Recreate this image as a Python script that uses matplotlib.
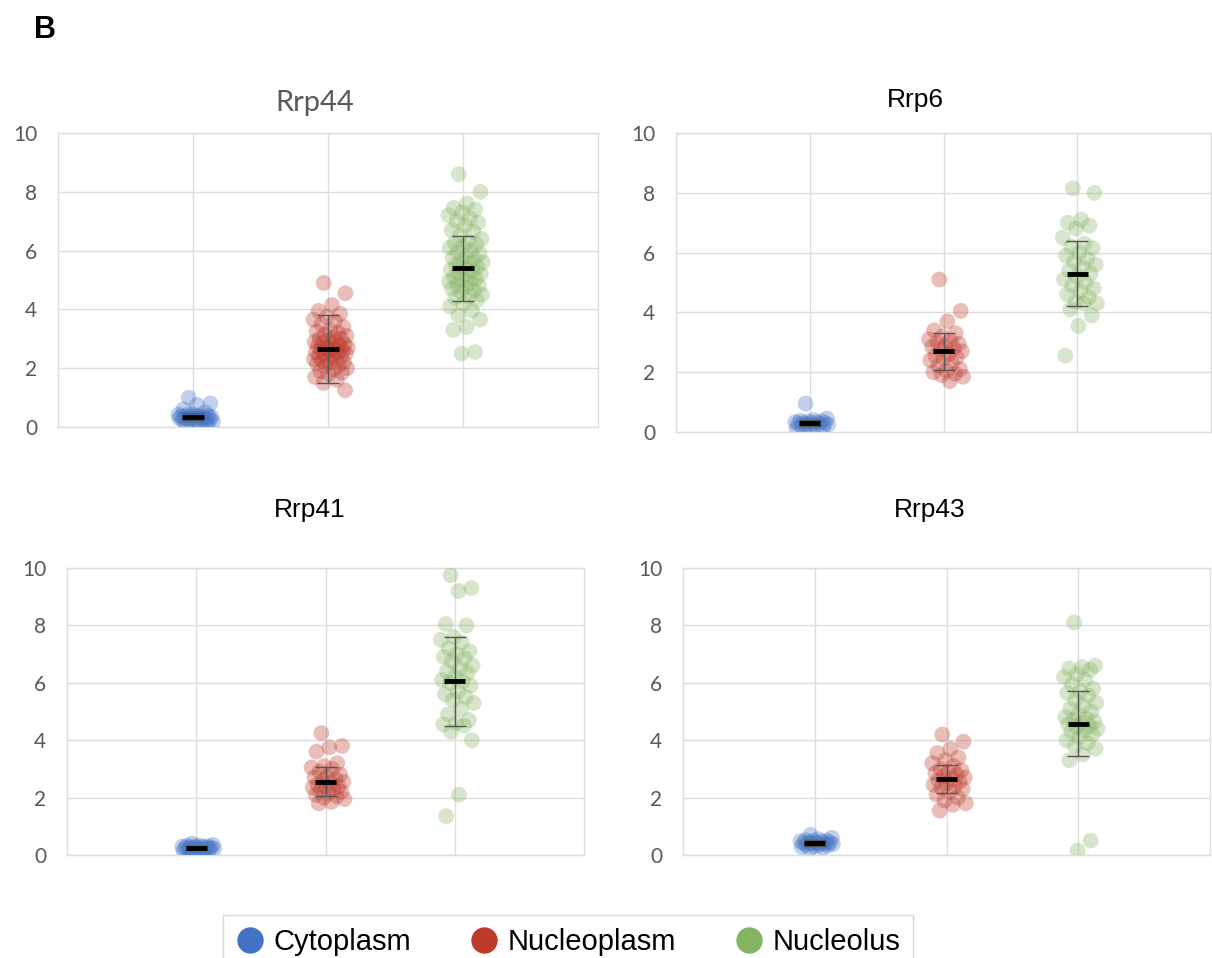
import numpy as np
import matplotlib
matplotlib.use("Agg")
import matplotlib.pyplot as plt
from matplotlib.lines import Line2D

# compartments and panels
compartments = ["Cytoplasm", "Nucleoplasm", "Nucleolus"]
colors = ["#4472C4", "#BE3A2C", "#84B362"]
proteins = ["Rrp44", "Rrp6", "Rrp41", "Rrp43"]

# values (per protein: cytoplasm, nucleoplasm, nucleolus)
rrp44_cyto = [1.0, 0.8, 0.75, 0.6, 0.5, 0.45, 0.42, 0.4, 0.4, 0.38, 0.38, 0.36, 0.35, 0.35,
              0.34, 0.33, 0.32, 0.3, 0.3, 0.3, 0.28, 0.28, 0.26, 0.25, 0.25, 0.22, 0.2, 0.18,
              0.15, 0.1, 0.05]
rrp44_nucp = [4.9, 4.55, 4.15, 3.95, 3.85, 3.75, 3.65, 3.6, 3.5, 3.4, 3.3, 3.25, 3.2, 3.15,
              3.1, 3.05, 3.0, 3.0, 2.95, 2.9, 2.9, 2.85, 2.8, 2.8, 2.75, 2.75, 2.7, 2.7, 2.65,
              2.65, 2.6, 2.6, 2.55, 2.55, 2.5, 2.5, 2.45, 2.4, 2.4, 2.35, 2.3, 2.3, 2.25, 2.2,
              2.2, 2.15, 2.1, 2.05, 2.0, 1.95, 1.9, 1.85, 1.8, 1.7, 1.6, 1.5, 1.25]
rrp44_nucl = [8.6, 8.0, 7.6, 7.45, 7.4, 7.3, 7.2, 7.1, 7.0, 6.95, 6.85, 6.7, 6.65, 6.5, 6.4,
              6.3, 6.25, 6.2, 6.15, 6.1, 6.0, 5.95, 5.9, 5.8, 5.75, 5.7, 5.65, 5.6, 5.55, 5.5,
              5.45, 5.4, 5.35, 5.3, 5.25, 5.2, 5.15, 5.1, 5.05, 5.0, 4.95, 4.9, 4.85, 4.8,
              4.75, 4.7, 4.65, 4.6, 4.5, 4.45, 4.4, 4.3, 4.2, 4.1, 3.95, 3.8, 3.65, 3.4, 3.3,
              2.55, 2.5]

rrp6_cyto = [0.95, 0.45, 0.4, 0.38, 0.36, 0.35, 0.33, 0.32, 0.3, 0.3, 0.29, 0.28, 0.27, 0.26,
             0.25, 0.22, 0.2, 0.18, 0.15, 0.12]
rrp6_nucp = [5.1, 4.05, 3.7, 3.4, 3.3, 3.2, 3.1, 3.05, 3.0, 2.95, 2.9, 2.85, 2.8, 2.75, 2.7,
             2.6, 2.55, 2.5, 2.45, 2.4, 2.3, 2.2, 2.1, 2.05, 2.0, 1.95, 1.9, 1.85, 1.7]
rrp6_nucl = [8.15, 8.0, 7.1, 7.0, 6.9, 6.8, 6.5, 6.3, 6.2, 6.15, 6.0, 5.9, 5.8, 5.7, 5.6, 5.5,
             5.4, 5.3, 5.2, 5.1, 5.0, 4.9, 4.8, 4.7, 4.6, 4.5, 4.35, 4.3, 4.3, 4.1, 3.9, 3.55,
             2.55]

rrp41_cyto = [0.4, 0.35, 0.33, 0.32, 0.3, 0.3, 0.29, 0.28, 0.27, 0.26, 0.25, 0.25, 0.24, 0.23,
              0.22, 0.21, 0.2, 0.2, 0.18, 0.15, 0.1, 0.05]
rrp41_nucp = [4.25, 3.8, 3.75, 3.6, 3.2, 3.1, 3.05, 3.0, 2.9, 2.8, 2.75, 2.7, 2.65, 2.6, 2.55,
              2.5, 2.45, 2.4, 2.4, 2.35, 2.3, 2.25, 2.2, 2.15, 2.1, 2.05, 2.0, 1.95, 1.85, 1.8]
rrp41_nucl = [9.75, 9.3, 9.2, 8.05, 8.0, 7.6, 7.5, 7.4, 7.2, 7.1, 7.0, 6.9, 6.85, 6.75, 6.6,
              6.5, 6.4, 6.35, 6.2, 6.1, 6.05, 6.0, 5.9, 5.7, 5.6, 5.5, 5.4, 5.3, 5.1, 4.9, 4.7,
              4.6, 4.55, 4.5, 4.3, 4.0, 2.1, 1.35]

rrp43_cyto = [0.7, 0.6, 0.55, 0.52, 0.5, 0.5, 0.48, 0.46, 0.45, 0.44, 0.42, 0.41, 0.4, 0.4,
              0.38, 0.36, 0.35, 0.33, 0.3, 0.28, 0.25, 0.22]
rrp43_nucp = [4.2, 3.95, 3.7, 3.55, 3.4, 3.3, 3.2, 3.1, 3.0, 2.95, 2.9, 2.85, 2.8, 2.75, 2.7,
              2.65, 2.6, 2.55, 2.5, 2.45, 2.4, 2.35, 2.3, 2.2, 2.1, 2.0, 1.9, 1.8, 1.75, 1.55]
rrp43_nucl = [8.1, 6.6, 6.55, 6.5, 6.45, 6.3, 6.2, 6.1, 5.95, 5.8, 5.7, 5.65, 5.55, 5.4, 5.3,
              5.2, 5.1, 5.0, 4.9, 4.8, 4.75, 4.7, 4.65, 4.6, 4.55, 4.5, 4.45, 4.4, 4.35, 4.3,
              4.2, 4.1, 4.0, 3.9, 3.8, 3.7, 3.5, 3.3, 0.5, 0.15]

# means and SD shown by the black bars / whiskers
rrp44_mean = [0.35, 2.65, 5.4]
rrp44_sd = [0.12, 1.15, 1.1]
rrp6_mean = [0.3, 2.7, 5.3]
rrp6_sd = [0.1, 0.62, 1.1]
rrp41_mean = [0.25, 2.55, 6.05]
rrp41_sd = [0.08, 0.5, 1.55]
rrp43_mean = [0.42, 2.65, 4.58]
rrp43_sd = [0.1, 0.5, 1.13]

panel_data = [
    ([rrp44_cyto, rrp44_nucp, rrp44_nucl], rrp44_mean, rrp44_sd),
    ([rrp6_cyto, rrp6_nucp, rrp6_nucl], rrp6_mean, rrp6_sd),
    ([rrp41_cyto, rrp41_nucp, rrp41_nucl], rrp41_mean, rrp41_sd),
    ([rrp43_cyto, rrp43_nucp, rrp43_nucl], rrp43_mean, rrp43_sd),
]

W, H = 1212, 958
fig = plt.figure(figsize=(W / 100, H / 100), dpi=100)

# axes boxes in pixels: left, top, right, bottom
boxes = [(58, 133, 598, 427), (676, 133, 1211, 432), (67, 568, 584, 855), (683, 568, 1210, 855)]
title_pos = [(315, 103), (915, 100), (310, 510), (930, 510)]

grid_col = "#DDDDDD"
tick_col = "#595959"

for k, (groups, means, sds) in enumerate(panel_data):
    l, t, r, b = boxes[k]
    ax = fig.add_axes([l / W, 1 - b / H, (r - l) / W, (b - t) / H])
    ax.set_xlim(0, 4)
    ax.set_ylim(0, 10)
    ax.set_yticks([0, 2, 4, 6, 8, 10])
    ax.set_xticks([1, 2, 3])
    ax.set_xticklabels([])
    ax.grid(True, color=grid_col, linewidth=1.0)
    ax.set_axisbelow(True)
    ax.tick_params(length=0, labelsize=15, labelcolor=tick_col, pad=15)
    for lab in ax.get_yticklabels():
        lab.set_fontfamily("Lato")
    for s in ax.spines.values():
        s.set_color(grid_col)
        s.set_linewidth(1.0)

    for j, vals in enumerate(groups):
        n = len(vals)
        idx = np.arange(n)
        jit = ((idx * 0.618034 + 0.3) % 1 - 0.5) * 0.26
        ax.scatter(j + 1 + jit + 0.02, vals, s=130, color=colors[j], alpha=0.33,
                   edgecolors="none", zorder=3)
        ax.errorbar(j + 1, means[j], yerr=sds[j], fmt="none", ecolor="#555555",
                    elinewidth=1.0, capsize=8, capthick=1.0, zorder=4)
        ax.plot([j + 1 - 0.08, j + 1 + 0.08], [means[j], means[j]], color="black",
                linewidth=3.5, solid_capstyle="butt", zorder=5)

    tx, ty = title_pos[k]
    if k == 0:
        fig.text(tx / W, 1 - ty / H, proteins[k], ha="center", va="center",
                 fontsize=21, color="#595959", family="Lato")
    else:
        fig.text(tx / W, 1 - ty / H, proteins[k], ha="center", va="center",
                 fontsize=19, color="black", family="Liberation Sans")

fig.text(45 / W, 1 - 30 / H, "B", ha="center", va="center", fontsize=22,
         fontweight="bold", family="Liberation Sans")

handles = [Line2D([0], [0], marker="o", linestyle="none", markersize=19,
                  markerfacecolor=c, markeredgecolor="none") for c in colors]
leg = fig.legend(handles, compartments, loc="upper center",
                 bbox_to_anchor=(568 / W, 1 - 900 / H), ncol=3, frameon=True,
                 fancybox=False, edgecolor="#CCCCCC", handletextpad=0.3,
                 columnspacing=2.0, borderpad=0.45, handlelength=1.0,
                 prop={"family": "Liberation Sans", "size": 21})
leg.get_frame().set_linewidth(1.0)

fig.savefig("out.png", dpi=100)
